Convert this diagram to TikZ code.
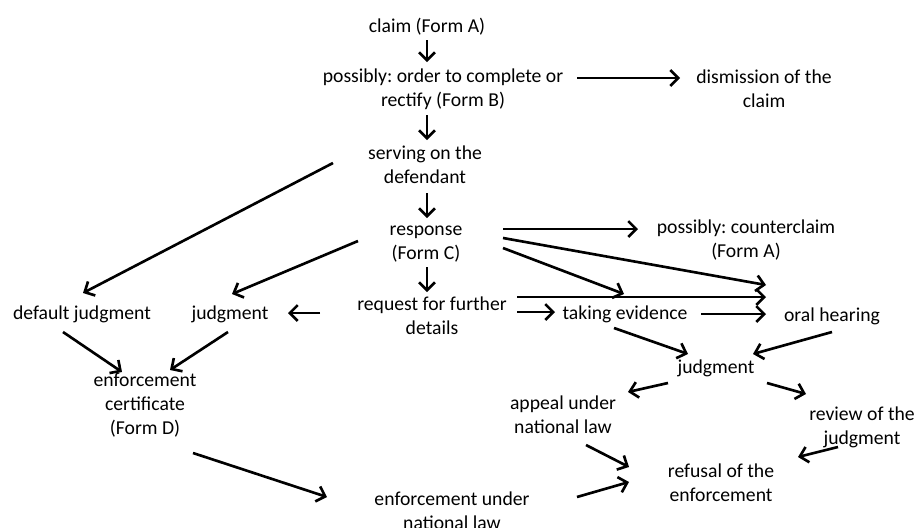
\documentclass[tikz,border=0pt]{standalone}
\usepackage{fontspec}
\setmainfont{Carlito}
\usetikzlibrary{arrows.meta}
\frenchspacing

\begin{document}
\begin{tikzpicture}[x=0.02cm, y=-0.02cm]
  \tikzset{step text/.style={align=center, inner sep=0pt, font=\fontsize{11.2}{13.6}\selectfont},
           arr/.style={-{Straight Barb[length=4.5pt,width=9pt]}, line width=1.5pt}}
  \useasboundingbox (0,0) rectangle (924,528);
  % steps of the procedure
  \node[step text] (claim) at (427,27) {claim (Form A)};
  \node[step text] (order) at (443,89) {possibly: order to complete or\\rectify (Form B)};
  \node[step text] (dismiss) at (764,89) {dismission of the\\claim};
  \node[step text] (serve) at (425,165) {serving on the\\defendant};
  \node[step text] (resp) at (426,244) {response\\(Form C)};
  \node[step text] (counter) at (746,240) {possibly: counterclaim\\(Form A)};
  \node[step text] (request) at (432,316) {request for further\\details};
  \node[step text] (defjudg) at (82,314) {default judgment};
  \node[step text] (judgA) at (230,314) {judgment};
  \node[step text] (evid) at (625,314) {taking evidence};
  \node[step text] (oral) at (832,316) {oral hearing};
  \node[step text] (judgB) at (716,368) {judgment};
  \node[step text] (cert) at (145,405) {enforcement\\certificate\\(Form D)};
  \node[step text] (appeal) at (563,415) {appeal under\\national law};
  \node[step text] (review) at (862,427) {review of the\\judgment};
  \node[step text] (refusal) at (721,483) {refusal of the\\enforcement};
  \node[step text] (enfnat) at (452,511) {enforcement under\\national law};
  % arrows
  \path[arr]
    ([shift={(0,13)}]claim.center) edge ([shift={(-16,-27)}]order.center)
    ([shift={(134,-11)}]order.center) edge ([shift={(-84,-11)}]dismiss.center)
    ([shift={(-16,26)}]order.center) edge ([shift={(2,-25)}]serve.center)
    ([shift={(-92,-2)}]serve.center) edge ([shift={(1,-21)}]defjudg.center)
    ([shift={(2,28)}]serve.center) edge ([shift={(1,-26)}]resp.center)
    ([shift={(1,23)}]resp.center) edge ([shift={(-5,-24)}]request.center)
    ([shift={(-68,-3)}]resp.center) edge ([shift={(2,-20)}]judgA.center)
    ([shift={(-112,-3)}]request.center) edge ([shift={(58,-1)}]judgA.center)
    ([shift={(-19,18)}]defjudg.center) edge ([shift={(-23,-33)}]cert.center)
    ([shift={(-2,18)}]judgA.center) edge ([shift={(25,-35)}]cert.center)
    ([shift={(48,48)}]cert.center) edge ([shift={(-125,-14)}]enfnat.center)
    ([shift={(125,-14)}]enfnat.center) edge ([shift={(-92,-1)}]refusal.center)
    ([shift={(23,30)}]appeal.center) edge ([shift={(-92,-16)}]refusal.center)
    ([shift={(-48,15)}]judgB.center) edge ([shift={(65,-23)}]appeal.center)
    ([shift={(51,15)}]judgB.center) edge ([shift={(-56,-33)}]review.center)
    ([shift={(-24,20)}]review.center) edge ([shift={(77,-26)}]refusal.center)
    ([shift={(-11,14)}]evid.center) edge ([shift={(-28,-14)}]judgB.center)
    ([shift={(0,16)}]oral.center) edge ([shift={(37,-14)}]judgB.center)
    ([shift={(85,-4)}]request.center) edge ([shift={(-70,-2)}]evid.center)
    ([shift={(76,0)}]evid.center) edge ([shift={(-66,-2)}]oral.center)
    ([shift={(85,-19)}]request.center) edge ([shift={(-66,-19)}]oral.center)
    ([shift={(77,-15)}]resp.center) edge ([shift={(-108,-11)}]counter.center)
    ([shift={(77,-6)}]resp.center) edge ([shift={(-66,-31)}]oral.center)
    ([shift={(77,4)}]resp.center) edge ([shift={(-1,-20)}]evid.center);
\end{tikzpicture}
\end{document}
